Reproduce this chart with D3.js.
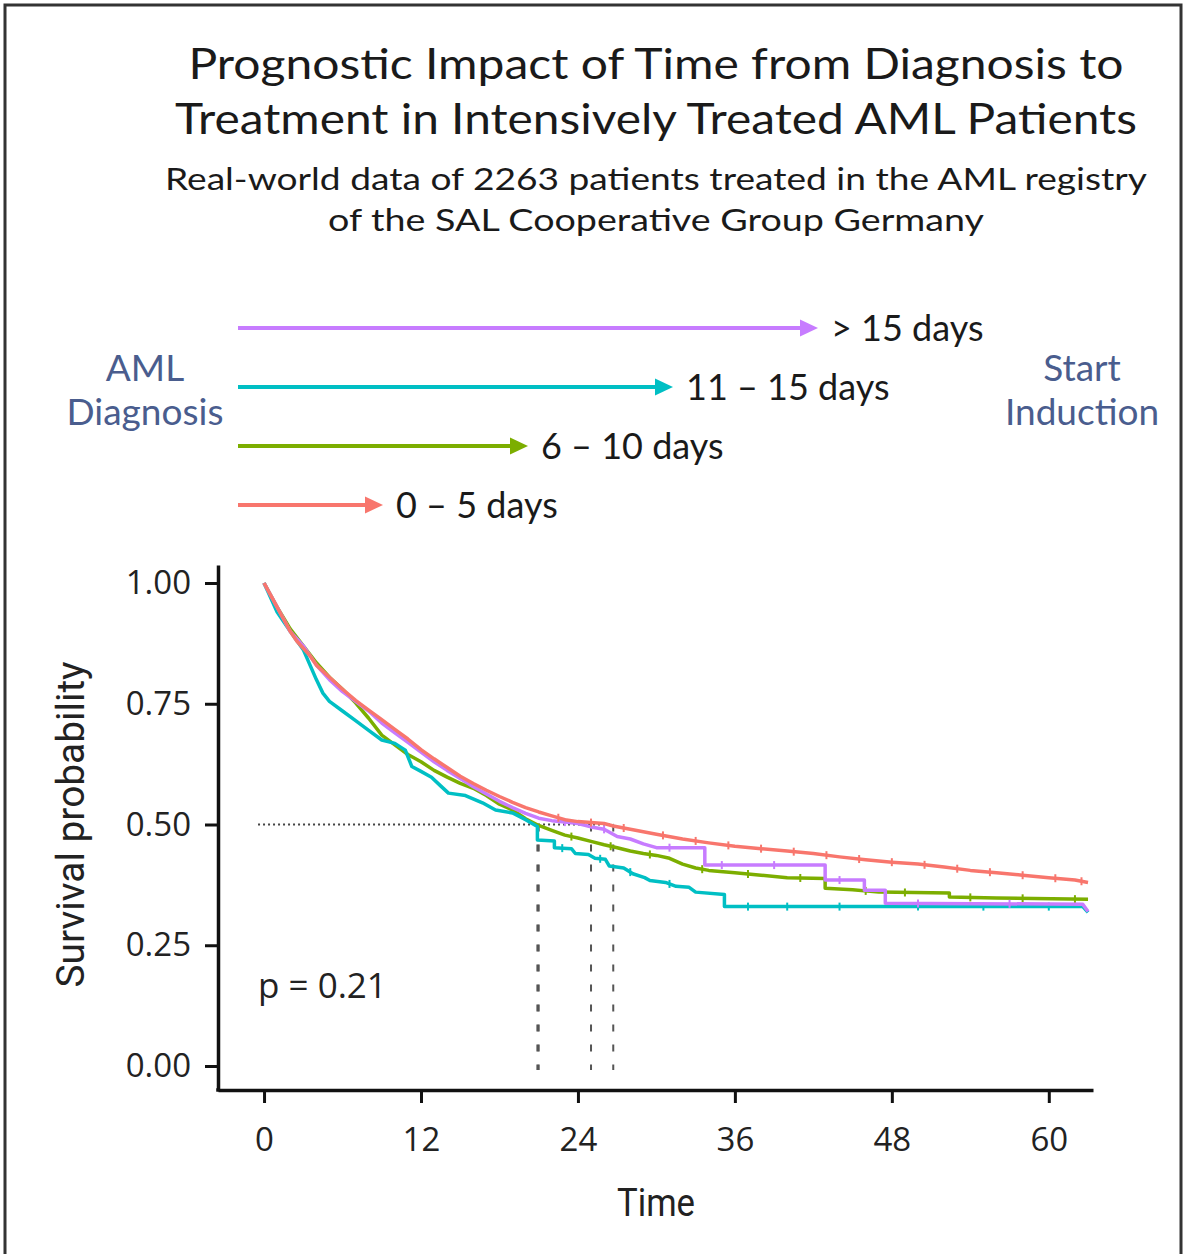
<!DOCTYPE html>
<html>
<head>
<meta charset="utf-8">
<script src="https://cdn.jsdelivr.net/npm/d3@7"></script>
<style>
  html, body { margin: 0; padding: 0; background: #fff; }
  svg { display: block; }
</style>
</head>
<body>
<svg id="chart" width="1185" height="1254"></svg>
<script>
// ---- Data -------------------------------------------------------------
const groups = ["0 – 5 days", "6 – 10 days", "11 – 15 days", "> 15 days"];
const groupColors = ["#F8766D", "#7CAE00", "#00BFC4", "#C77CFF"];

// Kaplan–Meier estimates (months, survival probability); repeated times mark vertical drops
const timeRed = [0, 0.5, 1, 1.5, 2, 2.5, 3, 3.5, 4, 5, 6, 7, 8, 9, 10, 11, 12, 13, 14, 15, 16, 17, 18, 19, 20, 21, 22, 23, 24, 25, 26, 26.7, 28, 29, 30, 32, 34, 36, 38, 40, 42, 44, 46, 48, 50, 52, 54, 56, 58, 60, 62, 63];
const survRed = [1, 0.975, 0.95, 0.925, 0.9, 0.88, 0.865, 0.85, 0.83, 0.805, 0.78, 0.757, 0.737, 0.717, 0.697, 0.677, 0.655, 0.636, 0.618, 0.6, 0.585, 0.571, 0.558, 0.546, 0.535, 0.526, 0.518, 0.51, 0.506, 0.504, 0.502, 0.497, 0.49, 0.485, 0.48, 0.47, 0.462, 0.455, 0.45, 0.445, 0.44, 0.433, 0.427, 0.422, 0.418, 0.412, 0.405, 0.4, 0.395, 0.39, 0.385, 0.38];

const timeGreen = [0, 1, 2, 3, 4, 5, 6, 7, 8, 9, 10, 11, 12, 13, 14, 15, 16, 17, 18, 19, 20, 21, 22, 23, 24, 25, 26, 27, 28, 29, 30, 31, 32, 33, 34, 36, 38, 40, 42.9, 42.9, 45, 47, 52.4, 52.4, 56, 63];
const survGreen = [1, 0.95, 0.905, 0.87, 0.835, 0.805, 0.78, 0.752, 0.72, 0.685, 0.665, 0.645, 0.63, 0.612, 0.598, 0.585, 0.575, 0.56, 0.542, 0.53, 0.512, 0.498, 0.488, 0.478, 0.472, 0.465, 0.458, 0.452, 0.445, 0.44, 0.436, 0.43, 0.418, 0.41, 0.405, 0.4, 0.395, 0.39, 0.388, 0.368, 0.365, 0.36, 0.358, 0.35, 0.348, 0.345];

const timeCyan = [0, 1, 2, 3, 4, 4.5, 5, 6, 7, 8, 9, 10, 10.8, 11.3, 12, 12.8, 13.5, 14.1, 15.4, 16.7, 17.7, 19, 20, 20.9, 20.9, 22.2, 22.2, 23.5, 23.8, 24.8, 25.3, 26.1, 26.4, 27.5, 28.2, 29.1, 29.5, 30.7, 31.5, 32.5, 33, 35.2, 35.2, 62.6, 63];
const survCyan = [1, 0.94, 0.9, 0.862, 0.8, 0.772, 0.755, 0.735, 0.715, 0.695, 0.675, 0.668, 0.654, 0.62, 0.61, 0.598, 0.58, 0.565, 0.56, 0.545, 0.53, 0.524, 0.51, 0.496, 0.468, 0.466, 0.452, 0.45, 0.44, 0.438, 0.43, 0.428, 0.414, 0.41, 0.398, 0.39, 0.384, 0.38, 0.372, 0.37, 0.36, 0.355, 0.33, 0.33, 0.318];

const timePurple = [0, 1, 2, 3, 4, 5, 6, 7, 8, 9, 10, 11, 12, 13, 14, 15, 16, 17, 18, 19, 20, 21, 22, 23, 24, 25, 26, 27, 28, 29, 30, 33.7, 33.7, 42.9, 42.9, 45.9, 45.9, 47.5, 47.5, 62.6, 63];
const survPurple = [1, 0.95, 0.9, 0.87, 0.83, 0.8, 0.775, 0.755, 0.735, 0.71, 0.69, 0.67, 0.65, 0.63, 0.612, 0.595, 0.578, 0.563, 0.548, 0.535, 0.523, 0.513, 0.508, 0.505, 0.502, 0.495, 0.49, 0.475, 0.47, 0.46, 0.452, 0.452, 0.416, 0.416, 0.385, 0.385, 0.364, 0.364, 0.337, 0.335, 0.32];

// censoring times (months)
const censorRed = [22.5, 25, 27.5, 30.5, 33, 35.5, 38, 40.5, 43, 45.5, 48, 50.5, 53, 55.5, 58, 60.5, 62.5];
const censorGreen = [23.5, 26.5, 29.5, 33.5, 37, 41, 46, 49, 54, 58, 62];
const censorCyan = [22.8, 25.7, 28, 31, 37, 40, 44, 50, 55, 60];
const censorPurple = [23, 26, 31, 35, 39, 44, 50, 57];

const xTicks = [0, 12, 24, 36, 48, 60];
const yTicks = [0, 0.25, 0.5, 0.75, 1];
const pValueText = "p = 0.21";

const series = [
  { name: groups[1], color: groupColors[1], t: timeGreen, s: survGreen, c: censorGreen },
  { name: groups[2], color: groupColors[2], t: timeCyan, s: survCyan, c: censorCyan },
  { name: groups[3], color: groupColors[3], t: timePurple, s: survPurple, c: censorPurple },
  { name: groups[0], color: groupColors[0], t: timeRed, s: survRed, c: censorRed }
];

// ---- Layout -------------------------------------------------------------
const svg = d3.select("#chart");

// frame
svg.append("rect")
  .attr("x", 5).attr("y", 5).attr("width", 1176).attr("height", 1262)
  .attr("fill", "none").attr("stroke", "#333").attr("stroke-width", 3);

// title block
const titleFont = "Lato, 'Open Sans', sans-serif";
const titleLines = [
  { text: "Prognostic Impact of Time from Diagnosis to", y: 79, size: 42, len: 935 },
  { text: "Treatment in Intensively Treated AML Patients", y: 134, size: 42, len: 962 },
  { text: "Real-world data of 2263 patients treated in the AML registry", y: 190, size: 31, len: 982 },
  { text: "of the SAL Cooperative Group Germany", y: 231, size: 31, len: 656 }
];
svg.selectAll("text.title").data(titleLines).join("text")
  .attr("class", "title")
  .attr("x", 656).attr("y", d => d.y)
  .attr("text-anchor", "middle")
  .attr("font-family", titleFont)
  .attr("font-size", d => d.size)
  .attr("fill", "#1a1a1a")
  .attr("textLength", d => d.len)
  .attr("lengthAdjust", "spacingAndGlyphs")
  .text(d => d.text);

// arrow legend: length grows with the waiting-time group
const arrowX = d3.scaleLinear().domain([0, 4]).range([238, 818]);
const arrowY = d3.scalePoint().domain(groups.slice().reverse()).range([328, 505]);
const legend = svg.append("g");
groups.forEach((g, i) => {
  const x1 = arrowX(i + 1), y = arrowY(g), col = groupColors[i];
  legend.append("line")
    .attr("x1", arrowX(0)).attr("x2", x1 - 12).attr("y1", y).attr("y2", y)
    .attr("stroke", col).attr("stroke-width", 4);
  legend.append("path")
    .attr("d", `M${x1},${y} L${x1 - 18},${y - 8.5} L${x1 - 18},${y + 8.5} Z`)
    .attr("fill", col);
  legend.append("text")
    .attr("x", x1 + 13).attr("y", y + 13)
    .attr("font-family", titleFont).attr("font-size", 36).attr("fill", "#1a1a1a")
    .text(g);
});
const sideText = [
  { lines: ["AML", "Diagnosis"], x: 145 },
  { lines: ["Start", "Induction"], x: 1082 }
];
sideText.forEach(d => {
  d.lines.forEach((l, j) => {
    svg.append("text")
      .attr("x", d.x).attr("y", 381 + j * 44)
      .attr("text-anchor", "middle")
      .attr("font-family", titleFont).attr("font-size", 37)
      .attr("fill", "#4a5d8e")
      .text(l);
  });
});

// ---- Survival plot --------------------------------------------------------
const x = d3.scaleLinear().domain([-3.52, 63.38]).range([218, 1093]);
const y = d3.scaleLinear().domain([-0.0497, 1.0373]).range([1090, 565]);

const tickFont = "'Open Sans', 'Noto Sans', sans-serif";

const xAxis = svg.append("g")
  .attr("transform", `translate(0,${y.range()[0]})`)
  .call(d3.axisBottom(x).tickValues(xTicks).tickSize(13).tickPadding(25).tickSizeOuter(0));
const yAxis = svg.append("g")
  .attr("transform", `translate(${x.range()[0]},0)`)
  .call(d3.axisLeft(y).tickValues(yTicks).tickFormat(d3.format(".2f")).tickSize(13).tickPadding(14).tickSizeOuter(0));
[xAxis, yAxis].forEach(a => {
  a.select(".domain").attr("stroke", "#111").attr("stroke-width", 3.5);
  a.selectAll(".tick line").attr("stroke", "#111").attr("stroke-width", 3);
  a.selectAll(".tick text").attr("font-family", tickFont).attr("font-size", 33).attr("fill", "#222");
});
// square the axis corner
svg.append("rect")
  .attr("x", x.range()[0] - 1.75).attr("y", y.range()[0] - 1.75)
  .attr("width", 3.5).attr("height", 3.5).attr("fill", "#111");

// axis titles (condensed)
svg.append("text")
  .attr("x", 656).attr("y", 1216)
  .attr("text-anchor", "middle")
  .attr("font-family", "Roboto, sans-serif").attr("font-size", 38).attr("fill", "#222")
  .attr("textLength", 78).attr("lengthAdjust", "spacingAndGlyphs")
  .text("Time");
svg.append("text")
  .attr("transform", `translate(84,${y(0.5)}) rotate(-90)`)
  .attr("text-anchor", "middle")
  .attr("font-family", "Roboto, sans-serif").attr("font-size", 38).attr("fill", "#222")
  .attr("textLength", 326).attr("lengthAdjust", "spacingAndGlyphs")
  .text("Survival probability");

// median survival reference lines
const medians = series.map(d => d.t[d.s.findIndex(v => v <= 0.5)]);
const medG = svg.append("g");
medG.append("line")
  .attr("x1", x(0) - 6).attr("x2", x(d3.max(medians)))
  .attr("y1", y(0.5)).attr("y2", y(0.5))
  .attr("stroke", "#444").attr("stroke-width", 2).attr("stroke-dasharray", "2,3");
medG.selectAll("line.vm").data(medians).join("line")
  .attr("class", "vm")
  .attr("x1", d => x(d)).attr("x2", d => x(d))
  .attr("y1", y(0.5)).attr("y2", y(0) + 4)
  .attr("stroke", "#555").attr("stroke-width", 2).attr("stroke-dasharray", "7,13");

// KM curves
const line = d3.line().x(d => x(d[0])).y(d => y(d[1]));
const valueAt = (d, t) => {
  const i = Math.max(0, d3.bisectRight(d.t, t) - 1);
  if (i >= d.t.length - 1) return d.s[d.s.length - 1];
  const f = (t - d.t[i]) / (d.t[i + 1] - d.t[i] || 1);
  return d.s[i] + f * (d.s[i + 1] - d.s[i]);
};
series.forEach(d => {
  const pts = d.t.map((t, i) => [t, d.s[i]]);
  svg.append("path")
    .attr("d", line(pts))
    .attr("fill", "none").attr("stroke", d.color)
    .attr("stroke-width", 3.5).attr("stroke-linejoin", "round");
  svg.append("g").selectAll("line").data(d.c).join("line")
    .attr("x1", t => x(t)).attr("x2", t => x(t))
    .attr("y1", t => y(valueAt(d, t)) - 4).attr("y2", t => y(valueAt(d, t)) + 4)
    .attr("stroke", d.color).attr("stroke-width", 2);
});

// log-rank p value
svg.append("text")
  .attr("x", x(0) - 6).attr("y", y(0.14))
  .attr("font-family", tickFont).attr("font-size", 35).attr("fill", "#222")
  .text(pValueText);
</script>
</body>
</html>
